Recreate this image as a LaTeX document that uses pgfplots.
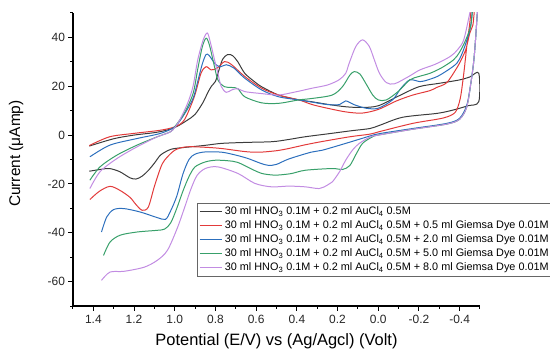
\documentclass[border=0pt]{standalone}
\usepackage{fontspec}
\setmainfont{Liberation Sans}
\usepackage{pgfplots}
\pgfplotsset{compat=1.18}
\definecolor{cBlack}{HTML}{3C3C3C}
\definecolor{cRed}{HTML}{E23A3A}
\definecolor{cBlue}{HTML}{2C6FBD}
\definecolor{cGreen}{HTML}{38A06A}
\definecolor{cPurple}{HTML}{C28CE2}
\begin{document}
\begin{tikzpicture}
\useasboundingbox (-73bp,-45bp) rectangle (477bp,306bp);
\begin{axis}[
  scale only axis, width=407bp, height=293bp,
  x dir=reverse, xmin=-0.5, xmax=1.5, ymin=-70, ymax=50,
  axis x line*=bottom, axis y line*=left,
  axis line style={line width=1.6pt, black},
  xtick={-0.4,-0.2,0,0.2,0.4,0.6,0.8,1.0,1.2,1.4},
  minor xtick={-0.5,-0.3,-0.1,0.1,0.3,0.5,0.7,0.9,1.1,1.3,1.5},
  ytick={-60,-40,-20,0,20,40},
  minor ytick={-70,-50,-30,-10,10,30,50},
  tick align=outside, major tick length=4.5bp, minor tick length=2.5bp,
  every tick/.style={black, line width=1pt},
  /pgf/number format/assume math mode=true,
  tick label style={font=\fontsize{12}{14}\selectfont, text=black!85},
  xticklabel style={yshift=-1bp, /pgf/number format/.cd, fixed, fixed zerofill, precision=1},
  xlabel={Potential (E/V) vs (Ag/Agcl) (Volt)},
  ylabel={Current (μAmp)},
  xlabel style={font=\fontsize{16.5}{19}\selectfont, at={(axis description cs:0.5,-0.119)}, anchor=center},
  ylabel style={font=\fontsize{15.5}{18}\selectfont, at={(axis description cs:-0.14,0.52)}, anchor=center},
  legend style={at={(axis description cs:0.305,0.352)}, anchor=north west,
    draw=black!60, line width=0.5pt, font=\fontsize{10.9}{13}\selectfont,
    row sep=0.6pt, inner sep=1.8pt},
  legend cell align=left,
  legend image code/.code={\draw[#1] (0cm,0cm) -- (0.8cm,0cm);},
  every axis plot/.append style={line width=1pt, smooth, tension=0.5},
]
% black: no dye
\addplot[cBlack] coordinates {
(1.42,-14.8) (1.36,-14.0) (1.32,-13.7) (1.27,-15.0) (1.22,-17.5) (1.19,-18.0)
(1.16,-16.8) (1.13,-14.5) (1.10,-11.5) (1.07,-8.2) (1.03,-6.2) (1.00,-5.5)
(0.92,-4.8) (0.85,-4.2) (0.77,-3.4) (0.65,-3.0) (0.52,-2.7) (0.44,-1.8)
(0.36,-0.7) (0.23,0.7) (0.13,1.8) (0.04,2.7) (-0.01,4.1) (-0.12,7.3)
(-0.29,8.9) (-0.37,10.3) (-0.44,12.0) (-0.494,13.7) (-0.494,25.3)
(-0.45,23.8) (-0.40,22.6) (-0.30,21.2) (-0.20,19.8) (-0.10,16.0) (0.00,12.0)
(0.08,11.3) (0.16,11.6) (0.25,12.6) (0.33,13.7) (0.39,14.4) (0.49,16.4)
(0.573,19.8) (0.61,22.0) (0.656,25.3) (0.69,30.0) (0.715,32.5) (0.74,33.0)
(0.765,31.0) (0.785,26.0) (0.80,22.0) (0.82,20.0) (0.84,17.0) (0.86,13.5)
(0.90,8.5) (0.94,6.0) (0.99,3.5) (1.04,2.0) (1.10,1.0) (1.20,0.0)
(1.30,-1.5) (1.42,-4.5)
};
\addlegendentry{30 ml HNO\textsubscript{3} 0.1M + 0.2 ml AuCl\textsubscript{4} 0.5M}
% red: 0.5 ml
\addplot[cRed] coordinates {
(1.417,-26.4) (1.37,-23.0) (1.318,-21.0) (1.27,-22.6) (1.22,-25.5) (1.19,-28.5)
(1.16,-30.8) (1.13,-29.5) (1.10,-21.0) (1.07,-13.5) (1.05,-10.3) (1.00,-6.2)
(0.94,-4.8) (0.85,-5.0) (0.77,-5.5) (0.65,-6.8) (0.58,-7.0) (0.50,-6.4)
(0.44,-5.5) (0.36,-4.0) (0.28,-2.7) (0.14,-0.7) (0.04,0.4) (-0.01,1.5)
(-0.17,4.8) (-0.29,6.5) (-0.34,7.5) (-0.38,9.5) (-0.403,15) (-0.42,25)
(-0.436,37) (-0.45,46) (-0.461,55) (-0.475,55) (-0.465,45) (-0.45,41.8)
(-0.43,35) (-0.40,29.5) (-0.386,27.5) (-0.337,21.5) (-0.287,19.5)
(-0.254,18.2) (-0.17,16.4) (-0.09,14.0) (0.00,10.5) (0.08,9.0) (0.16,9.5)
(0.25,11.0) (0.325,12.5) (0.39,14.4) (0.49,16.4) (0.573,19.2) (0.656,24.0)
(0.72,28.8) (0.755,30.1) (0.79,27.5) (0.82,26.7) (0.846,28.0) (0.871,25.3)
(0.904,15.7) (0.953,6.2) (1.00,3.4) (1.07,2.0) (1.20,0.7) (1.32,-0.7)
(1.42,-4.3)
};
\addlegendentry{30 ml HNO\textsubscript{3} 0.1M + 0.2 ml AuCl\textsubscript{4} 0.5M + 0.5 ml Giemsa Dye 0.01M}
% blue: 2.0 ml
\addplot[cBlue] coordinates {
(1.36,-39.7) (1.334,-33.5) (1.30,-30.5) (1.25,-30.1) (1.17,-31.5) (1.086,-33.8)
(1.045,-34.5) (1.02,-31.0) (0.99,-25.0) (0.96,-16.0) (0.93,-10.0) (0.90,-7.8)
(0.85,-6.9) (0.77,-7.0) (0.70,-8.2) (0.64,-9.6) (0.58,-11.5) (0.54,-12.4)
(0.50,-12.0) (0.44,-9.8) (0.33,-7.0) (0.275,-6.2) (0.16,-3.4) (0.077,-1.3)
(0.00,0.5) (-0.17,2.7) (-0.337,4.8) (-0.40,6.9) (-0.435,12.3) (-0.455,21.2)
(-0.469,30) (-0.478,39) (-0.486,49) (-0.492,56) (-0.47,56) (-0.455,45)
(-0.436,39) (-0.41,33) (-0.386,29.4) (-0.34,26.5) (-0.29,24) (-0.24,22.5)
(-0.205,21.9) (-0.155,22.6) (-0.11,19) (-0.07,14.4) (0.00,11.0) (0.06,11.0)
(0.12,12.5) (0.16,14.0) (0.19,12.5) (0.25,12.5) (0.325,13.5) (0.39,14.4)
(0.49,15.7) (0.573,18.5) (0.656,23.3) (0.71,27.5) (0.747,28.8) (0.775,28.0)
(0.80,29.0) (0.83,32.5) (0.846,33.0) (0.865,29) (0.89,21) (0.91,15)
(0.953,8.5) (1.00,3.4) (1.07,0.7) (1.185,-1.4) (1.318,-4.1) (1.417,-8.9)
};
\addlegendentry{30 ml HNO\textsubscript{3} 0.1M + 0.2 ml AuCl\textsubscript{4} 0.5M + 2.0 ml Giemsa Dye 0.01M}
% green: 5.0 ml
\addplot[cGreen] coordinates {
(1.35,-49.3) (1.318,-43.8) (1.268,-41.0) (1.185,-39.7) (1.086,-39.0) (1.05,-38.5)
(1.02,-36) (0.99,-30) (0.96,-23) (0.93,-17) (0.90,-13) (0.85,-11)
(0.80,-10.3) (0.74,-10.5) (0.69,-11.2) (0.62,-14) (0.573,-15.7) (0.507,-16.4)
(0.43,-15.8) (0.358,-14.4) (0.226,-13.7) (0.176,-14.1) (0.14,-12.5) (0.11,-8)
(0.077,-3.4) (0.03,-0.8) (0.00,0.0) (-0.17,2.4) (-0.337,4.5) (-0.40,6.5)
(-0.435,11.5) (-0.455,21.2) (-0.469,30) (-0.478,39) (-0.486,49) (-0.492,56)
(-0.47,56) (-0.455,45) (-0.43,39) (-0.40,34) (-0.37,30.8) (-0.31,27.5)
(-0.254,25.3) (-0.20,24) (-0.155,22.6) (-0.10,18) (-0.04,14.4) (0.00,14.4)
(0.027,16.4) (0.06,21) (0.09,25) (0.118,26.0) (0.14,24.5) (0.176,19.8)
(0.226,16.4) (0.325,15.0) (0.39,14.4) (0.49,13.0) (0.573,13.2) (0.656,15.7)
(0.69,19.0) (0.72,19.5) (0.755,19.8) (0.788,22.6) (0.81,30) (0.83,37)
(0.846,39.7) (0.865,36) (0.887,27) (0.91,17) (0.953,9.0) (1.00,3.4)
(1.02,1.4) (1.086,-0.7) (1.185,-4.1) (1.284,-8.2) (1.367,-13.0) (1.417,-18.5)
};
\addlegendentry{30 ml HNO\textsubscript{3} 0.1M + 0.2 ml AuCl\textsubscript{4} 0.5M + 5.0 ml Giemsa Dye 0.01M}
% purple: 8.0 ml
\addplot[cPurple] coordinates {
(1.36,-59.5) (1.318,-56.1) (1.25,-55.8) (1.15,-54.1) (1.086,-51.3) (1.036,-47.2)
(0.987,-38) (0.953,-30) (0.92,-22) (0.89,-16.5) (0.85,-13.7) (0.79,-13.0)
(0.69,-15.7) (0.606,-19.8) (0.524,-21.2) (0.44,-20.9) (0.358,-21.2) (0.29,-21.9)
(0.25,-20.5) (0.226,-19.2) (0.19,-15) (0.16,-10.3) (0.125,-6) (0.093,-3.4)
(0.04,-0.8) (0.00,0.0) (-0.17,2.4) (-0.337,4.5) (-0.40,6.5) (-0.435,11.5)
(-0.455,21.2) (-0.469,30) (-0.478,39) (-0.486,49) (-0.492,56) (-0.465,56)
(-0.45,50) (-0.42,39) (-0.39,35) (-0.354,32.2) (-0.28,29) (-0.205,26.7)
(-0.15,24) (-0.08,21) (-0.04,21.5) (-0.006,25.3) (0.02,31) (0.044,36.3)
(0.077,39.0) (0.11,36.3) (0.143,29.4) (0.16,25.3) (0.193,22.6) (0.25,20.5)
(0.325,19.2) (0.40,17.8) (0.49,16.4) (0.573,17.0) (0.656,17.8) (0.69,19.0)
(0.72,18.5) (0.747,17.5) (0.772,20) (0.79,26) (0.805,31) (0.825,38)
(0.84,41.8) (0.86,39) (0.887,30.8) (0.91,20) (0.937,13.0) (0.98,5.5)
(1.02,1.4) (1.086,-0.7) (1.185,-4.8) (1.284,-9.6) (1.367,-15.0) (1.417,-21.9)
};
\addlegendentry{30 ml HNO\textsubscript{3} 0.1M + 0.2 ml AuCl\textsubscript{4} 0.5M + 8.0 ml Giemsa Dye 0.01M}
\end{axis}
\end{tikzpicture}
\end{document}
